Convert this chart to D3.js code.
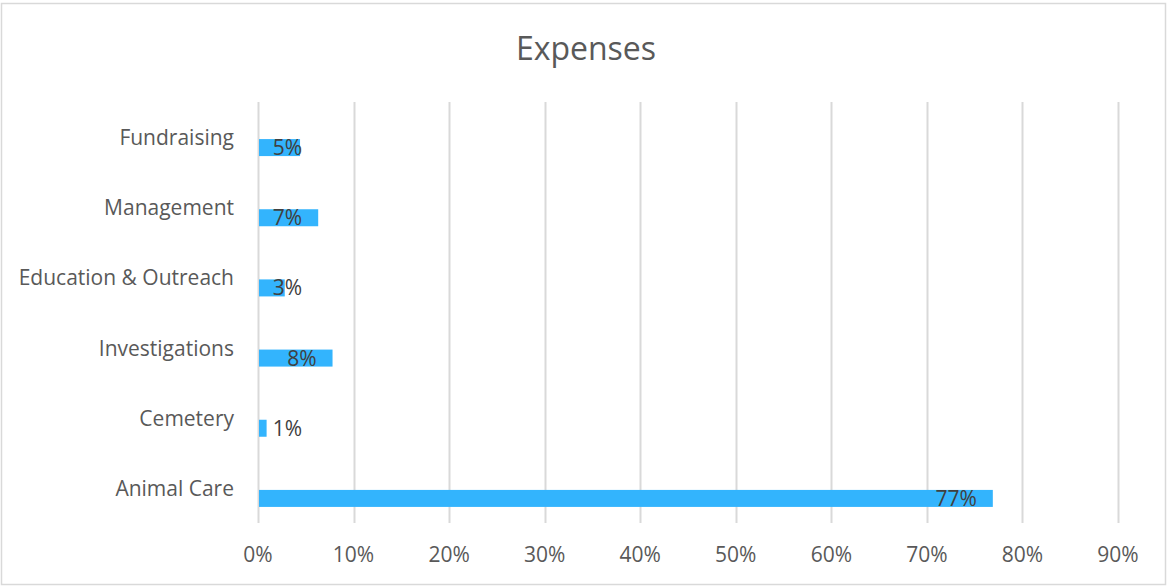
<!DOCTYPE html>
<html>
<head>
<meta charset="utf-8">
<script src="https://cdn.jsdelivr.net/npm/d3@7"></script>
<style>
	body { margin: 0; background: #fff; }
	svg { display: block; font-family: "Open Sans", sans-serif; }
</style>
</head>
<body>
<div id="chart"></div>
<script>

// chart data, top to bottom as drawn
var categories = ["Fundraising", "Management", "Education & Outreach", "Investigations", "Cemetery", "Animal Care"];
var values = [0.044, 0.063, 0.028, 0.078, 0.009, 0.769];
var valueLabels = ["5%", "7%", "3%", "8%", "1%", "77%"];
var xTicks = [0, 0.1, 0.2, 0.3, 0.4, 0.5, 0.6, 0.7, 0.8, 0.9];

var W = 1167, H = 586;
var plot = {left: 258, right: 1118, top: 102, bottom: 523};

var svg = d3.select("#chart").append("svg")
	.attr("width", W)
	.attr("height", H);

// outer frame
svg.append("rect")
	.attr("x", 1.5).attr("y", 3.5)
	.attr("width", W - 3).attr("height", H - 5)
	.attr("fill", "#fff")
	.attr("stroke", "#d9d9d9")
	.attr("stroke-width", 1.5);

svg.append("text")
	.attr("x", 586).attr("y", 60)
	.attr("text-anchor", "middle")
	.attr("fill", "#595959")
	.style("font-size", "32px")
	.text("Expenses");

var x = d3.scaleLinear().domain([0, 0.9]).range([plot.left, plot.right]);
var y = d3.scaleBand().domain(categories).range([plot.top, plot.bottom]);

// vertical gridlines
svg.append("g")
	.attr("class", "xGridLines")
	.selectAll("line")
	.data(xTicks)
	.enter().append("line")
	.attr("x1", function(d) { return Math.round(x(d)) + 0.5 })
	.attr("x2", function(d) { return Math.round(x(d)) + 0.5 })
	.attr("y1", plot.top)
	.attr("y2", plot.bottom)
	.attr("stroke", "#d9d9d9")
	.attr("stroke-width", 2);

// x axis labels
svg.append("g")
	.attr("class", "xLabels")
	.selectAll("text")
	.data(xTicks)
	.enter().append("text")
	.attr("x", function(d) { return x(d) })
	.attr("y", 562)
	.attr("text-anchor", "middle")
	.attr("fill", "#595959")
	.style("font-size", "21px")
	.text(d3.format(".0%"));

// category labels
svg.append("g")
	.attr("class", "yLabels")
	.selectAll("text")
	.data(categories)
	.enter().append("text")
	.attr("x", 234)
	.attr("y", function(d) { return y(d) + y.bandwidth() / 2 + 8 })
	.attr("text-anchor", "end")
	.attr("fill", "#595959")
	.style("font-size", "21px")
	.text(function(d) { return d });

// bars sit just below the band centre (second slot of a 2-series cluster)
svg.append("g")
	.attr("class", "bars")
	.selectAll("rect")
	.data(categories)
	.enter().append("rect")
	.attr("x", x(0) + 1)
	.attr("y", function(d) { return y(d) + y.bandwidth() / 2 + 2 })
	.attr("width", function(d, i) { return x(values[i]) - x(0) - 1 })
	.attr("height", 17)
	.attr("fill", "#33b4fd");

// data labels
svg.append("g")
	.attr("class", "barLabels")
	.selectAll("text")
	.data(categories)
	.enter().append("text")
	.attr("x", function(d, i) { return Math.max(x(values[i]) - 16, x(0) + 44) })
	.attr("y", function(d) { return y(d) + y.bandwidth() / 2 + 18 })
	.attr("text-anchor", "end")
	.attr("fill", "#404040")
	.style("font-size", "21px")
	.text(function(d, i) { return valueLabels[i] });

</script>
</body>
</html>
